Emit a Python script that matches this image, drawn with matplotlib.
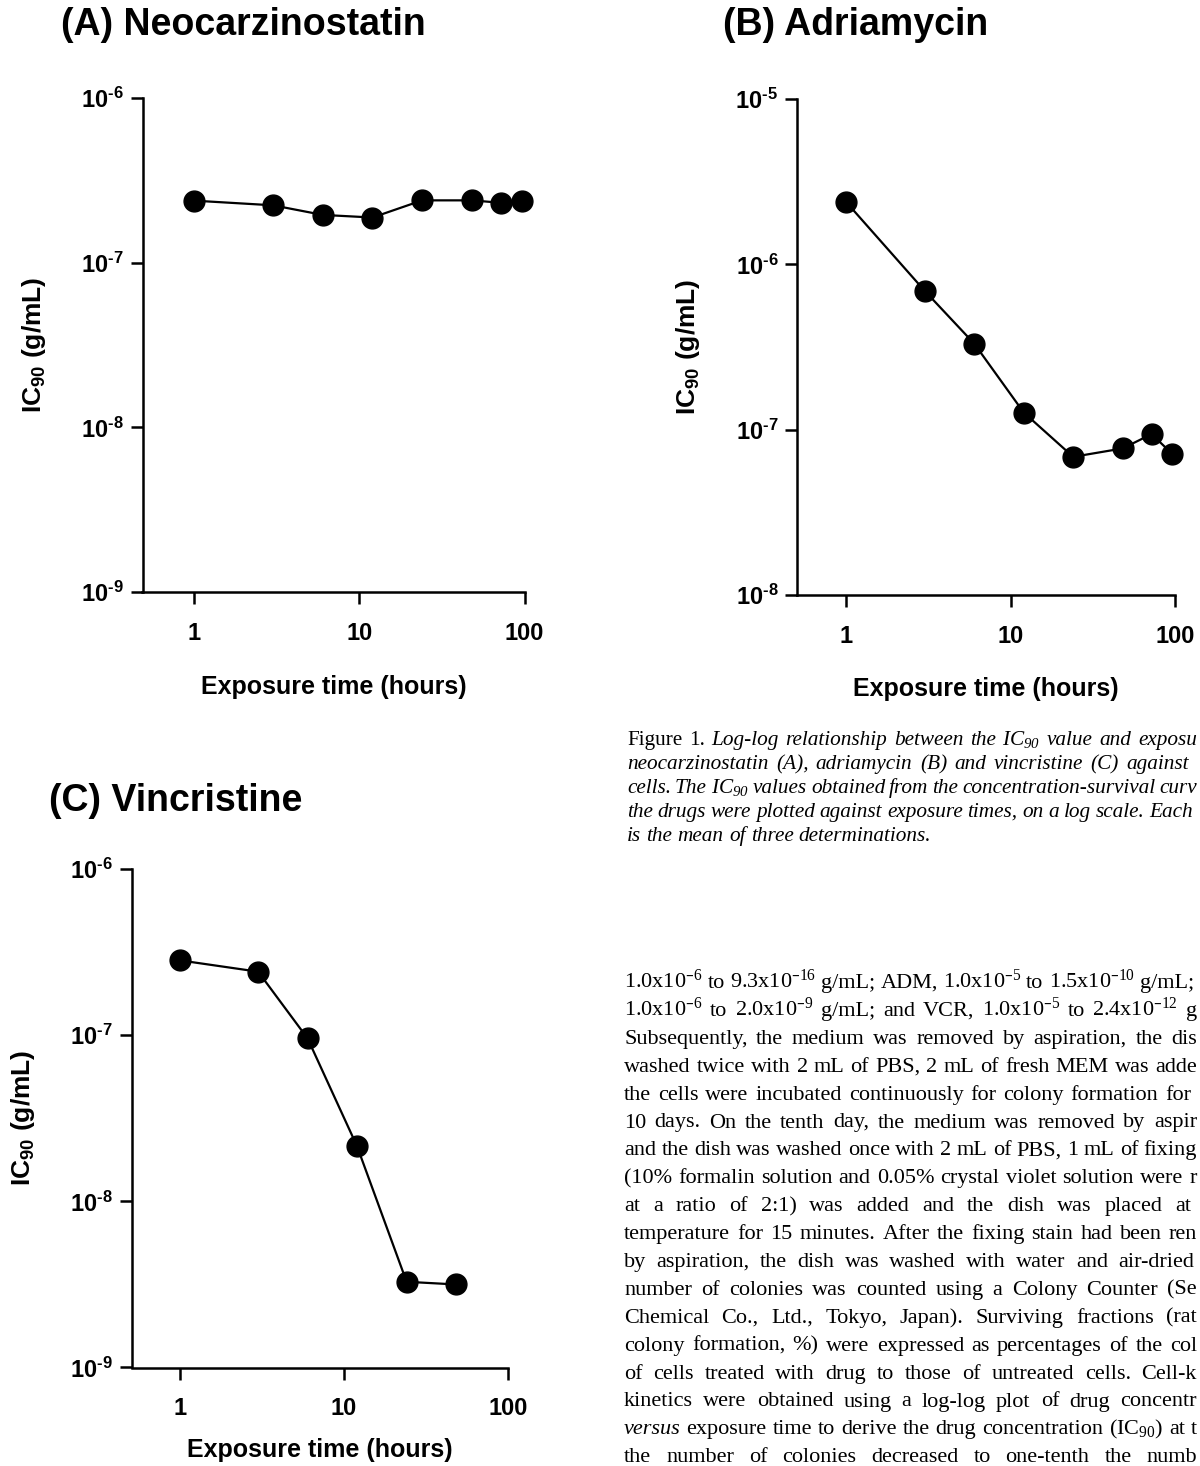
import numpy as np
import matplotlib
matplotlib.use('Agg')
import matplotlib.pyplot as plt

plt.rcParams['font.family'] = ['Liberation Sans', 'DejaVu Sans']
plt.rcParams['mathtext.default'] = 'regular'

W, H = 1200, 1466

# IC90 values
hours_A = [1, 3, 6, 12, 24, 48, 72, 96]
ic90_A = [2.38e-7, 2.23e-7, 1.95e-7, 1.88e-7, 2.39e-7, 2.39e-7, 2.31e-7, 2.38e-7]

hours_B = [1, 3, 6, 12, 24, 48, 72, 96]
ic90_B = [2.37e-6, 6.9e-7, 3.31e-7, 1.27e-7, 6.85e-8, 7.7e-8, 9.4e-8, 7.15e-8]

hours_C = [1, 3, 6, 12, 24, 48]
ic90_C = [2.82e-7, 2.41e-7, 9.55e-8, 2.14e-8, 3.28e-9, 3.16e-9]

titles = ['(A) Neocarzinostatin', '(B) Adriamycin', '(C) Vincristine']
x_ticks = [1, 10, 100]
x_ticklabels = ['1', '10', '100']
y_ticks_A = [1e-9, 1e-8, 1e-7, 1e-6]
y_labels_A = ['$10^{‐9}$', '$10^{‐8}$', '$10^{‐7}$', '$10^{‐6}$']
y_ticks_B = [1e-8, 1e-7, 1e-6, 1e-5]
y_labels_B = ['$10^{‐8}$', '$10^{‐7}$', '$10^{‐6}$', '$10^{‐5}$']

# page text ('~' flips italic/upright for that word)
caption = [
    '~Figure ~1. Log-log relationship between the IC$_{90}$ value and exposu',
    'neocarzinostatin (A), adriamycin (B) and vincristine (C) against',
    'cells. The IC$_{90}$ values obtained from the concentration-survival curv',
    'the drugs were plotted against exposure times, on a log scale. Each',
    'is the mean of three determinations.',
]
body = [
    '1.0x10$^{–6}$ to 9.3x10$^{–16}$ g/mL; ADM, 1.0x10$^{–5}$ to 1.5x10$^{–10}$ g/mL;',
    '1.0x10$^{–6}$ to 2.0x10$^{–9}$ g/mL; and VCR, 1.0x10$^{–5}$ to 2.4x10$^{–12}$ g',
    'Subsequently, the medium was removed by aspiration, the dis',
    'washed twice with 2 mL of PBS, 2 mL of fresh MEM was adde',
    'the cells were incubated continuously for colony formation for',
    '10 days. On the tenth day, the medium was removed by aspir',
    'and the dish was washed once with 2 mL of PBS, 1 mL of fixing',
    '(10% formalin solution and 0.05% crystal violet solution were r',
    'at a ratio of 2:1) was added and the dish was placed at',
    'temperature for 15 minutes. After the fixing stain had been ren',
    'by aspiration, the dish was washed with water and air-dried',
    'number of colonies was counted using a Colony Counter (Se',
    'Chemical Co., Ltd., Tokyo, Japan). Surviving fractions (rat',
    'colony formation, %) were expressed as percentages of the col',
    'of cells treated with drug to those of untreated cells. Cell-k',
    'kinetics were obtained using a log-log plot of drug concentr',
    '~versus exposure time to derive the drug concentration (IC$_{90}$) at t',
    'the number of colonies decreased to one-tenth the numb',
]
caption_right = [1197, 1189, 1197, 1193, None]
body_right = [1194, 1197, 1197, 1197, 1191, 1197, 1197, 1197, 1191,
              1197, 1194, 1197, 1197, 1197, 1197, 1197, 1197, 1197]

fig = plt.figure(figsize=(12, 14.66), dpi=100)
renderer = fig.canvas.get_renderer()


def px_axes(x0, y0, x1, y1):
    return fig.add_axes([x0 / W, 1 - y1 / H, (x1 - x0) / W, (y1 - y0) / H])


def panel(ax, hours, ic90, xmin, yticks, ylabels, xpad):
    ax.plot(hours, ic90, color='black', lw=1.6, marker='o', ms=15,
            mfc='black', mec='black', clip_on=False)
    ax.set_xscale('log')
    ax.set_yscale('log')
    ax.set_xlim(xmin, 100)
    ax.set_ylim(yticks[0], yticks[-1])
    ax.set_xticks(x_ticks, x_ticklabels)
    ax.set_yticks(yticks, ylabels)
    ax.minorticks_off()
    for s in ['top', 'right']:
        ax.spines[s].set_visible(False)
    for s in ['left', 'bottom']:
        ax.spines[s].set_linewidth(1.8)
    ax.tick_params(length=8.5, width=1.8, labelsize=17, direction='out')
    ax.tick_params(axis='x', pad=13)
    ax.tick_params(axis='y', pad=5)
    for lab in ax.get_xticklabels() + ax.get_yticklabels():
        lab.set_fontweight('bold')
    ax.set_xlabel('Exposure time (hours)', fontsize=18, fontweight='bold', labelpad=xpad)
    ax.set_ylabel('IC$_{90}$ (g/mL)', fontsize=19, fontweight='bold', labelpad=24)
    ax.patch.set_alpha(0)


axA = px_axes(142.5, 98, 524.5, 592)
panel(axA, hours_A, ic90_A, 0.486, y_ticks_A, y_labels_A, 22)
axB = px_axes(797, 99, 1175, 595)
panel(axB, hours_B, ic90_B, 0.5, y_ticks_B, y_labels_B, 21)
axC = px_axes(131.5, 869, 508.5, 1367.5)
panel(axC, hours_C, ic90_C, 0.509, y_ticks_A, y_labels_A, 13)

title_font = dict(fontsize=27, fontweight='bold', va='center', ha='left')
fig.text(61 / W, 1 - 25 / H, titles[0], **title_font)
fig.text(723 / W, 1 - 25 / H, titles[1], **title_font)
fig.text(49 / W, 1 - 801 / H, titles[2], **title_font)


def put_line(y, text, x0, x1, italic, size):
    pieces = []
    for w in text.split(' '):
        it = italic
        if w.startswith('~'):
            it = not italic
            w = w[1:]
        t = fig.text(x0 / W, 1 - y / H, w, fontsize=size, va='baseline', ha='left',
                     family=['Liberation Serif', 'DejaVu Serif'],
                     style='italic' if it else 'normal')
        pieces.append(t)
    widths = [t.get_window_extent(renderer).width for t in pieces]
    if x1 is None:
        gap = size * 100 / 72 * 0.25
    else:
        gap = (x1 - x0 - sum(widths)) / (len(pieces) - 1)
    x = x0
    for t, wd in zip(pieces, widths):
        t.set_x(x / W)
        x += wd + gap


for i, line in enumerate(caption):
    put_line(745 + 24 * i, line, 627, caption_right[i], True, 15.3)

for i, line in enumerate(body):
    put_line(988 + 27.9 * i, line, 624, body_right[i], False, 16)

fig.savefig('out.png', dpi=100)
